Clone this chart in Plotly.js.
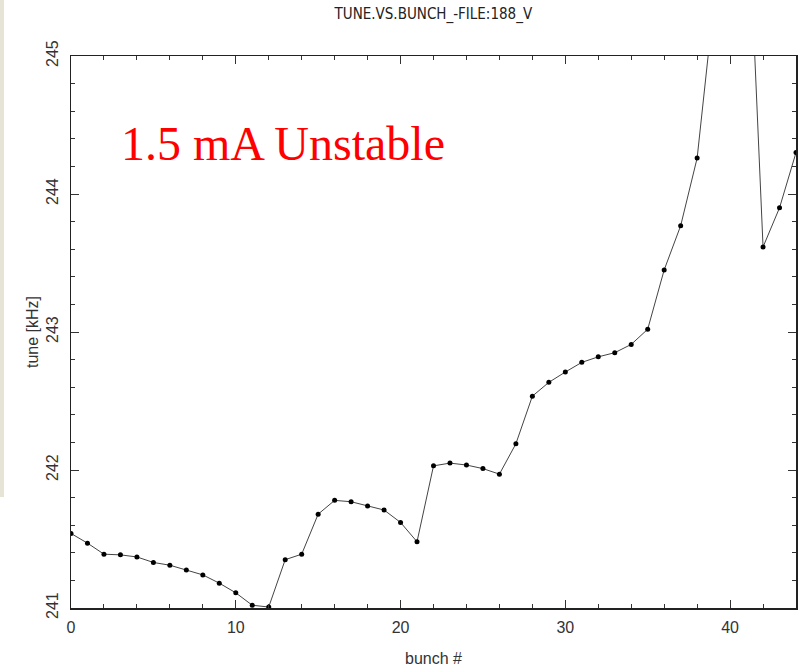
<!DOCTYPE html>
<html>
<head>
<meta charset="utf-8">
<script src="https://cdn.plot.ly/plotly-3.0.1.min.js"></script>
<style>
html,body{margin:0;padding:0;background:#fff;}
#chart{width:804px;height:670px;position:relative;}
#strip{position:absolute;left:0;top:0;width:4px;height:497px;background:#e6e4d6;z-index:5;}
</style>
</head>
<body>
<div id="strip"></div>
<div id="chart"></div>
<script>
// bunch number
const bunch = [0,1,2,3,4,5,6,7,8,9,10,11,12,13,14,15,16,17,18,19,20,21,22,23,24,25,26,27,28,29,30,31,32,33,34,35,36,37,38,39,40,41,42,43,44];
// tune [kHz] (39-41 go off the top of the chart)
const tune = [241.54,241.47,241.39,241.385,241.37,241.33,241.31,241.275,241.24,241.18,241.11,241.02,241.007,241.35,241.39,241.68,241.78,241.77,241.74,241.71,241.62,241.48,242.03,242.05,242.036,242.01,241.97,242.19,242.535,242.635,242.71,242.78,242.82,242.85,242.91,243.02,243.45,243.77,244.26,245.37,246.0,246.37,243.616,243.90,244.30];
const chartTitle = 'TUNE.VS.BUNCH_-FILE:188_V';
const xTitle = 'bunch #';
const yTitle = 'tune [kHz]';
const note = '1.5 mA Unstable';

const tickFont = {family:'Liberation Sans, DejaVu Sans, sans-serif', size:16, color:'#333'};

Plotly.newPlot('chart', [{
  x: bunch, y: tune, type:'scatter', mode:'lines+markers',
  line:{color:'#444', width:1},
  marker:{color:'#000', size:5},
  showlegend:false
}], {
  width:804, height:670,
  margin:{l:71, r:8, t:56, b:62, pad:0},
  paper_bgcolor:'#fff', plot_bgcolor:'#fff',
  title:{text:chartTitle, x:0.539, xanchor:'center', y:0.979, yanchor:'middle',
         font:{family:'Liberation Sans Narrow, DejaVu Sans Condensed, sans-serif', size:15, color:'#222'}},
  xaxis:{range:[0,44], dtick:10, tick0:0, ticks:'inside', ticklen:8, tickcolor:'#333', tickwidth:1,
         minor:{dtick:2, tick0:0, ticks:'inside', ticklen:4, tickcolor:'#333'},
         showgrid:false, zeroline:false, showline:true, linecolor:'#222', linewidth:1.5, mirror:'ticks',
         tickfont:tickFont, ticklabelstandoff:4,
         title:{text:xTitle, standoff:18, font:{family:'Liberation Sans, DejaVu Sans, sans-serif', size:16, color:'#333'}}},
  yaxis:{range:[241,245], dtick:1, tick0:241, ticks:'inside', ticklen:8, tickcolor:'#333', tickwidth:1,
         minor:{dtick:0.2, tick0:241, ticks:'inside', ticklen:4, tickcolor:'#333'},
         showgrid:false, zeroline:false, showline:true, linecolor:'#222', linewidth:1.5, mirror:'ticks',
         tickangle:-90, tickfont:tickFont, ticklabelstandoff:5,
         title:{text:yTitle, standoff:1, font:{family:'Liberation Sans, DejaVu Sans, sans-serif', size:16, color:'#333'}}},
  annotations:[{text:note, xref:'paper', yref:'paper', x:0.0662, y:0.841, xanchor:'left', yanchor:'middle',
                showarrow:false, font:{family:'Liberation Serif, Times New Roman, serif', size:48, color:'#ff0000'}}]
}, {displayModeBar:false, staticPlot:true});
</script>
</body>
</html>
